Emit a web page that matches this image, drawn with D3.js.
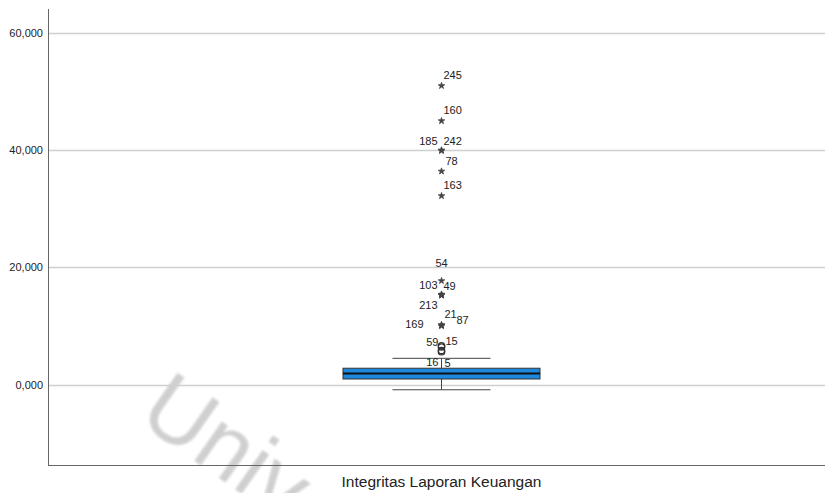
<!DOCTYPE html>
<html>
<head>
<meta charset="utf-8">
<script src="https://cdn.jsdelivr.net/npm/d3@7"></script>
<style>
  html, body { margin: 0; padding: 0; background: #fff; }
  svg { display: block; font-family: "Liberation Sans", Arial, sans-serif; }
</style>
</head>
<body>
<svg id="chart" width="825" height="493"></svg>
<script>
// Variable and tick values
const variableName = "Integritas Laporan Keuangan";
const tickValues = [0, 20, 40, 60];

// Box summary: lower whisker, Q1, median, Q3, upper whisker
const boxStats = [-0.9, 0.94, 1.88, 2.78, 4.47];

// Flagged cases: case number, value, type (extreme = star, outlier = circle)
const caseIds    = [245, 160, 185, 242, 78, 163, 54, 103, 49, 213, 169, 21, 87, 59, 15, 16, 5];
const caseValues = [51.0, 45.0, 40.0, 39.9, 36.4, 32.2, 17.7, 15.4, 15.3, 15.2, 10.2, 10.1, 10.0, 6.6, 6.4, 5.8, 5.6];
const caseTypes  = ["extreme","extreme","extreme","extreme","extreme","extreme","extreme","extreme","extreme","extreme","extreme","extreme","extreme","outlier","outlier","outlier","outlier"];

// Label placement around each marker: [dx, dy, anchor]
const labelPlacement = {
  245: [2, -11, "start"], 160: [2, -11, "start"], 185: [-4, -9, "end"], 242: [2, -10, "start"],
  78: [4, -10, "start"], 163: [2, -11, "start"], 54: [-6, -18, "start"], 103: [-4, -9, "end"],
  49: [2, -9, "start"], 213: [-4, 10, "end"], 169: [-18, -1, "end"], 21: [3, -11, "start"],
  87: [15, -6, "start"], 59: [-3, -4, "end"], 15: [4, -6, "start"], 16: [-3, 11, "end"], 5: [3, 11, "start"]
};

const svg = d3.select("#chart");
const plot = { left: 48, right: 825, top: 9, bottom: 465 };

const y = d3.scaleLinear().domain([-13.74, 64.1]).range([plot.bottom, plot.top]);
const x = d3.scaleBand().domain([variableName]).range([plot.left, plot.right]).paddingInner(0).paddingOuter(0);
const cx = x(variableName) + x.bandwidth() / 2 + 5;

const fmt = d3.formatLocale({ decimal: ",", thousands: ".", grouping: [3], currency: ["", ""] }).format(",.3f");

// Repository watermark, faint and soft, behind the marks
const defs = svg.append("defs");
defs.append("filter").attr("id", "soft").append("feGaussianBlur").attr("stdDeviation", 1.2);
svg.append("text").attr("transform", "translate(136,420) rotate(35)")
  .attr("font-size", 90).attr("fill", "#c4c4c4").attr("opacity", 0.8)
  .attr("filter", "url(#soft)").text("Univ");

// Gridlines
svg.append("g").selectAll("line").data(tickValues).join("line")
  .attr("x1", plot.left).attr("x2", plot.right)
  .attr("y1", d => Math.round(y(d)) + 0.5).attr("y2", d => Math.round(y(d)) + 0.5)
  .attr("stroke", "#cfcfcf").attr("stroke-width", 1.5);

// Y axis
const yAxis = d3.axisLeft(y).tickValues(tickValues).tickFormat(fmt).tickSize(0).tickPadding(5);
const gy = svg.append("g").attr("transform", `translate(${plot.left},0)`).call(yAxis);
gy.select(".domain").remove();
gy.selectAll("text").attr("font-size", 11).attr("fill", "#222").attr("font-family", "Liberation Sans, Arial, sans-serif");

// X axis
const xAxis = d3.axisBottom(x).tickSize(0).tickPadding(11);
const gx = svg.append("g").attr("transform", `translate(0,${plot.bottom})`).call(xAxis);
gx.select(".domain").remove();
gx.selectAll("text").attr("font-size", 15.5).attr("fill", "#222").attr("x", 5)
  .attr("font-family", "Liberation Sans, Arial, sans-serif");

// Axis frame lines
svg.append("line").attr("x1", plot.left + 0.5).attr("x2", plot.left + 0.5)
  .attr("y1", plot.top).attr("y2", plot.bottom).attr("stroke", "#666").attr("stroke-width", 1);
svg.append("line").attr("x1", plot.left).attr("x2", plot.right)
  .attr("y1", plot.bottom + 0.5).attr("y2", plot.bottom + 0.5).attr("stroke", "#666").attr("stroke-width", 1);

// Box plot
const [wLo, q1, med, q3, wHi] = boxStats;
const boxHalf = 98.5, capHalf = 49;
const g = svg.append("g");
g.append("line").attr("x1", cx).attr("x2", cx).attr("y1", y(q3)).attr("y2", y(wHi)).attr("stroke", "#444");
g.append("line").attr("x1", cx).attr("x2", cx).attr("y1", y(q1)).attr("y2", y(wLo)).attr("stroke", "#444");
g.append("line").attr("x1", cx - capHalf).attr("x2", cx + capHalf).attr("y1", y(wHi)).attr("y2", y(wHi)).attr("stroke", "#444");
g.append("line").attr("x1", cx - capHalf).attr("x2", cx + capHalf).attr("y1", y(wLo)).attr("y2", y(wLo)).attr("stroke", "#444");
g.append("rect").attr("x", cx - boxHalf).attr("width", boxHalf * 2)
  .attr("y", y(q3)).attr("height", y(q1) - y(q3))
  .attr("fill", "#1e88dc").attr("stroke", "#333").attr("stroke-width", 1);
g.append("line").attr("x1", cx - boxHalf).attr("x2", cx + boxHalf).attr("y1", y(med)).attr("y2", y(med))
  .attr("stroke", "#111").attr("stroke-width", 2);

// Flagged cases: stars for extremes, hollow circles for outliers
const cases = caseIds.map((id, i) => ({ id, value: caseValues[i], type: caseTypes[i] }));
const starPath = d3.symbol().type(d3.symbolStar).size(13)();
const mk = svg.append("g");
cases.forEach(c => {
  const cy = y(c.value);
  if (c.type === "extreme") {
    mk.append("path").attr("d", starPath)
      .attr("transform", `translate(${cx},${cy})`).attr("fill", "#444").attr("stroke", "#444").attr("stroke-width", 0.8);
  } else {
    mk.append("circle").attr("cx", cx).attr("cy", cy).attr("r", 3.2)
      .attr("fill", "none").attr("stroke", "#333").attr("stroke-width", 1.3);
  }
  const [dx, dy, anchor] = labelPlacement[c.id];
  mk.append("text").attr("x", cx + dx).attr("y", cy + dy + 4)
    .attr("text-anchor", anchor).attr("font-size", 11).attr("fill", "#222").text(c.id);
});
</script>
</body>
</html>
